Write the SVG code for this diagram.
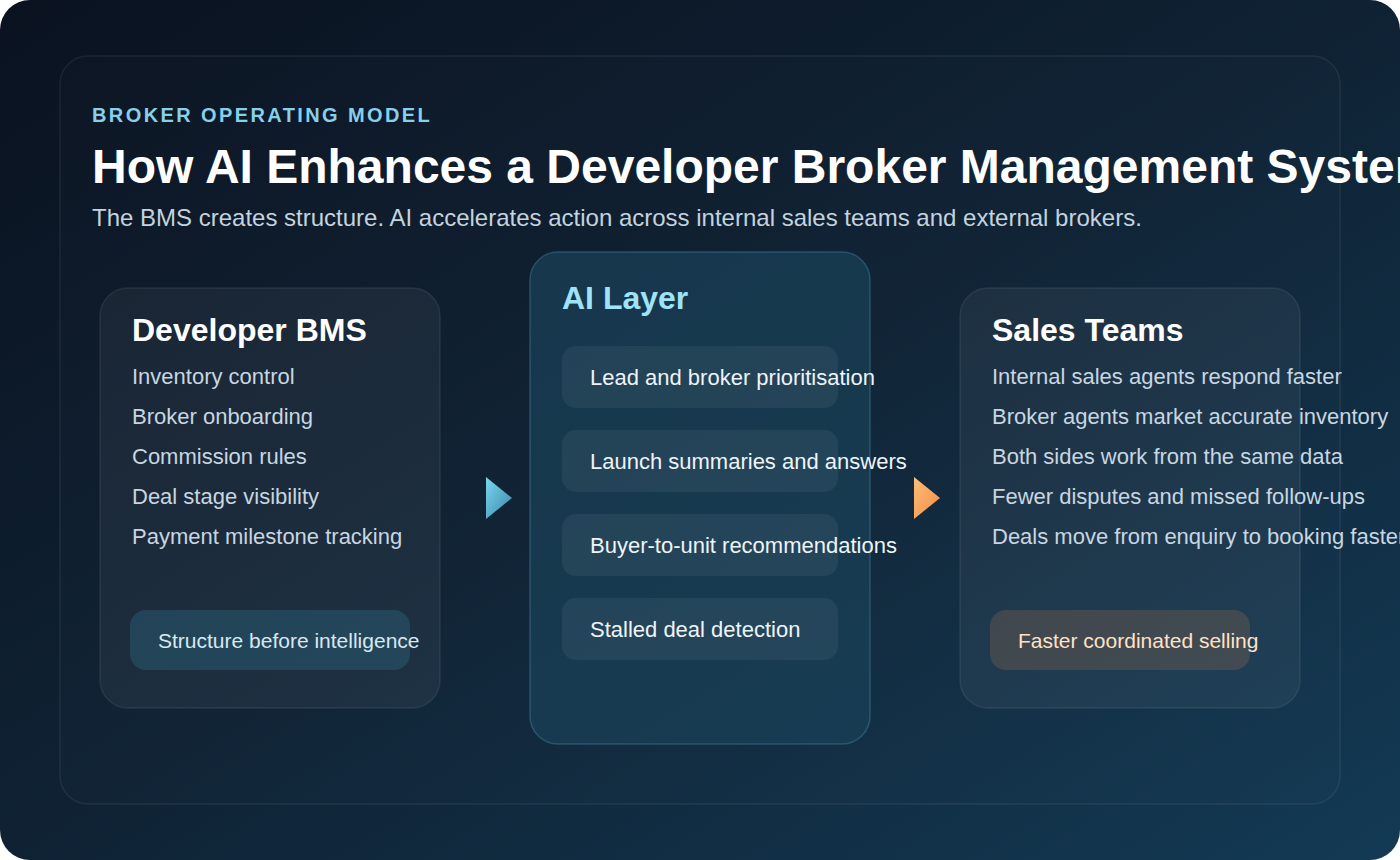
<svg xmlns="http://www.w3.org/2000/svg" width="1400" height="860" viewBox="0 0 1400 860">
<defs>
<linearGradient id="bg" x1="0" y1="0" x2="1" y2="1">
<stop offset="0" stop-color="#0a1220"/>
<stop offset="0.5" stop-color="#0f2234"/>
<stop offset="1" stop-color="#133a54"/>
</linearGradient>
<linearGradient id="gc" x1="0" y1="0" x2="1" y2="1">
<stop offset="0" stop-color="#7ad8f2"/>
<stop offset="1" stop-color="#3a86a6"/>
</linearGradient>
<linearGradient id="go" x1="0" y1="0" x2="1" y2="1">
<stop offset="0" stop-color="#ffbe78"/>
<stop offset="1" stop-color="#f28c48"/>
</linearGradient>
<style>
text{font-family:"Liberation Sans",Arial,sans-serif}
.card{fill:#ffffff;fill-opacity:0.05;stroke:#ffffff;stroke-opacity:0.08;stroke-width:1.5}
.ai{fill:#1a4258;fill-opacity:0.7;stroke:#3b7a94;stroke-opacity:0.5;stroke-width:1.5}
.h{font-size:32px;font-weight:bold;fill:#ffffff}
.li{font-size:22px;fill:#c8d6e1}
.chip{fill:#ffffff;fill-opacity:0.06}
.ct{font-size:22px;fill:#eef4f8}
</style>
</defs>
<rect x="0" y="0" width="1400" height="860" fill="#ffffff"/>
<rect x="0" y="0" width="1400" height="860" rx="30" fill="url(#bg)"/>
<rect x="60" y="56" width="1280" height="748" rx="28" fill="#ffffff" fill-opacity="0.01" stroke="#ffffff" stroke-opacity="0.07" stroke-width="1.5"/>
<g id="header">
<text x="92" y="122" font-size="20" font-weight="bold" letter-spacing="2.4" fill="#86d0ea">BROKER OPERATING MODEL</text>
<text x="92" y="183" font-size="48" font-weight="bold" fill="#ffffff">How AI Enhances a Developer Broker Management System</text>
<text x="92" y="226" font-size="24" fill="#c3d3df">The BMS creates structure. AI accelerates action across internal sales teams and external brokers.</text>
</g>
<g id="developer-bms">
<rect class="card" x="100" y="288" width="340" height="420" rx="28"/>
<text class="h" x="132" y="341">Developer BMS</text>
<text class="li" x="132" y="384">Inventory control</text>
<text class="li" x="132" y="424">Broker onboarding</text>
<text class="li" x="132" y="464">Commission rules</text>
<text class="li" x="132" y="504">Deal stage visibility</text>
<text class="li" x="132" y="544">Payment milestone tracking</text>
<rect x="130" y="610" width="280" height="60" rx="16" fill="#2a5a70" fill-opacity="0.55"/>
<text x="158" y="648" font-size="21" fill="#d8e8f2">Structure before intelligence</text>
</g>
<g id="ai-layer">
<rect class="ai" x="530" y="252" width="340" height="492" rx="28"/>
<text x="562" y="309" font-size="32" font-weight="bold" fill="#a0e2f6">AI Layer</text>
<rect class="chip" x="562" y="346" width="276" height="62" rx="14"/>
<text class="ct" x="590" y="385">Lead and broker prioritisation</text>
<rect class="chip" x="562" y="430" width="276" height="62" rx="14"/>
<text class="ct" x="590" y="469">Launch summaries and answers</text>
<rect class="chip" x="562" y="514" width="276" height="62" rx="14"/>
<text class="ct" x="590" y="553">Buyer-to-unit recommendations</text>
<rect class="chip" x="562" y="598" width="276" height="62" rx="14"/>
<text class="ct" x="590" y="637">Stalled deal detection</text>
</g>
<g id="sales-teams">
<rect class="card" x="960" y="288" width="340" height="420" rx="28"/>
<text class="h" x="992" y="341">Sales Teams</text>
<text class="li" x="992" y="384">Internal sales agents respond faster</text>
<text class="li" x="992" y="424">Broker agents market accurate inventory</text>
<text class="li" x="992" y="464">Both sides work from the same data</text>
<text class="li" x="992" y="504">Fewer disputes and missed follow-ups</text>
<text class="li" x="992" y="544">Deals move from enquiry to booking faster</text>
<rect x="990" y="610" width="260" height="60" rx="16" fill="#6a5a50" fill-opacity="0.45"/>
<text x="1018" y="648" font-size="21" fill="#ffe2c6">Faster coordinated selling</text>
</g>
<g id="connectors">
<polygon points="486,477 512,498 486,519" fill="url(#gc)"/>
<polygon points="914,477 940,498 914,519" fill="url(#go)"/>
</g>
</svg>
